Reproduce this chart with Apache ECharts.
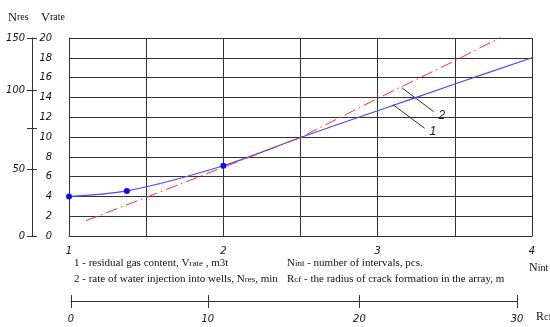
<!DOCTYPE html>
<html><head><meta charset="utf-8">
<script src="https://cdn.jsdelivr.net/npm/echarts@6/dist/echarts.min.js"></script>
<style>html,body{margin:0;background:#fff}#c{width:550px;height:327px}</style>
</head><body><div id="c"></div><script>
// ---- data ----
const nintTicks = ['1', '2', '3', '4'];
// curve 1: residual gas content (Vrate scale)
const blueX = [1, 1.375, 2, 2.5, 3, 3.5, 4];
const blueY = [4.0, 4.55, 7.1, 9.95, 12.65, 15.35, 18.0];
// curve 2: water injection rate (drawn on the same vertical scale)
const redX = [1.11, 1.5, 2.0, 2.5, 3.0, 3.5, 3.8];
const redY = [1.55, 3.9, 6.95, 9.95, 13.9, 17.7, 20.1];
// Nres tick labels and where they sit on the Vrate scale
const nresLabels = ['0', '50', '', '100', '150'];
const nresAt = [0, 6.77, 10.88, 14.75, 20];
// Rcf tick labels and their positions along the lower scale
const rcfLabels = ['0', '10', '20', '30'];
const rcfAt = [0, 9.2, 19.4, 30];
// leader lines for the curve labels
const leaderNames = ['1', '2'];
const leaderFrom = [[3.10, 13.25], [3.156, 14.98]];
const leaderTo = [[3.305, 10.88], [3.363, 12.56]];

const tickFont = {fontStyle: 'italic', fontSize: 11, color: '#111', fontFamily: 'Liberation Sans Narrow, DejaVu Sans Condensed, Liberation Sans'};
const lineCol = '#333';
const chart = echarts.init(document.getElementById('c'), null, {renderer: 'canvas'});
const nearest = (arr, v) => { let b = 0; arr.forEach((a, i) => { if (Math.abs(a - v) < Math.abs(arr[b] - v)) b = i; }); return b; };
const serif = 'Liberation Serif';
const rt = (n, s) => ({n: {fontSize: n, fontFamily: serif, fill: '#111'}, s: {fontSize: s, fontFamily: serif, fill: '#111'}});

chart.setOption({
  animation: false,
  backgroundColor: '#fff',
  grid: [
    {left: 69, top: 38, width: 463, height: 198},
    {left: 71, top: 300, width: 446, height: 1}
  ],
  xAxis: [
    {gridIndex: 0, type: 'value', min: 1, max: 4, interval: 0.5,
      axisLine: {show: true, lineStyle: {color: lineCol}}, axisTick: {show: false},
      axisLabel: Object.assign({customValues: nintTicks.map(Number), margin: 10, formatter: v => String(v)}, tickFont),
      splitLine: {show: true, lineStyle: {color: lineCol, width: 1}}},
    {gridIndex: 1, type: 'value', min: 0, max: 30, position: 'bottom',
      axisLine: {show: true, lineStyle: {color: lineCol}},
      axisTick: {show: true, customValues: rcfAt, length: 7, lineStyle: {color: lineCol}},
      axisLabel: Object.assign({customValues: rcfAt, margin: 13, formatter: v => rcfLabels[nearest(rcfAt, v)]}, tickFont),
      splitLine: {show: false}},
    {gridIndex: 1, type: 'value', min: 0, max: 30, position: 'bottom',
      axisLine: {show: false},
      axisTick: {show: true, inside: true, customValues: rcfAt, length: 6, lineStyle: {color: lineCol}},
      axisLabel: {show: false}, splitLine: {show: false}}
  ],
  yAxis: [
    {gridIndex: 0, type: 'value', min: 0, max: 20, interval: 2,
      axisLine: {show: true, lineStyle: {color: lineCol}}, axisTick: {show: false},
      axisLabel: Object.assign({margin: 17}, tickFont),
      splitLine: {show: true, lineStyle: {color: lineCol, width: 1}}},
    {gridIndex: 0, type: 'value', min: 0, max: 20, position: 'left', offset: 37,
      axisLine: {show: true, lineStyle: {color: lineCol}},
      axisTick: {show: true, customValues: nresAt, length: 5, lineStyle: {color: lineCol}},
      axisLabel: Object.assign({customValues: nresAt, margin: 7, formatter: v => nresLabels[nearest(nresAt, v)]}, tickFont),
      splitLine: {show: false}},
    {gridIndex: 0, type: 'value', min: 0, max: 20, position: 'left', offset: 37,
      axisLine: {show: false},
      axisTick: {show: true, inside: true, customValues: nresAt, length: 5, lineStyle: {color: lineCol}},
      axisLabel: {show: false}, splitLine: {show: false}},
    {gridIndex: 1, type: 'value', min: 0, max: 1, show: false}
  ],
  series: [
    {type: 'line', xAxisIndex: 0, yAxisIndex: 0, smooth: 0.3,
      data: blueX.map((x, i) => i < 3 ? {value: [x, blueY[i]], symbol: 'circle', symbolSize: 6} : {value: [x, blueY[i]], symbol: 'none'}),
      itemStyle: {color: '#0a0aff'},
      lineStyle: {color: '#4a4aff', width: 1.2},
      markLine: {symbol: 'none', silent: true, animation: false,
        lineStyle: {color: '#333', width: 1, type: 'solid'},
        label: {show: true, position: 'end', distance: 6, formatter: p => p.name, fontStyle: 'italic', fontSize: 12, color: '#222', fontFamily: 'Liberation Sans'},
        emphasis: {disabled: true},
        data: leaderNames.map((n, i) => [{coord: leaderFrom[i], name: n}, {coord: leaderTo[i]}])}},
    {type: 'line', xAxisIndex: 0, yAxisIndex: 0, showSymbol: false, symbol: 'none',
      data: redX.map((x, i) => [x, redY[i]]),
      lineStyle: {color: '#ff3030', width: 1, type: [12, 4, 1.5, 4]}},
    {type: 'line', xAxisIndex: 1, yAxisIndex: 3, data: [], silent: true}
  ],
  graphic: [
    {type: 'text', left: 8, top: 11, style: {text: '{n|N}{s|res}', rich: rt(12.5, 10)}},
    {type: 'text', left: 41, top: 11, style: {text: '{n|V}{s|rate}', rich: rt(12.5, 10)}},
    {type: 'text', left: 529, top: 262, style: {text: '{n|N}{s|int}', rich: rt(12, 10)}},
    {type: 'text', left: 536, top: 311, style: {text: '{n|R}{s|cf}', rich: rt(12, 10)}},
    {type: 'text', left: 74, top: 258, style: {text: '{n|1 - residual gas content, V}{s|rate}{n| , m3t}', rich: rt(11, 9)}},
    {type: 'text', left: 74, top: 274, style: {text: '{n|2 - rate of water injection into wells, N}{s|res}{n|, min}', rich: rt(11, 9)}},
    {type: 'text', left: 287, top: 258, style: {text: '{n|N}{s|int}{n| - number of intervals, pcs.}', rich: rt(11, 9)}},
    {type: 'text', left: 287, top: 274, style: {text: '{n|R}{s|cf}{n| - the radius of crack formation in the array, m}', rich: rt(11, 9)}}
  ]
});
</script></body></html>
